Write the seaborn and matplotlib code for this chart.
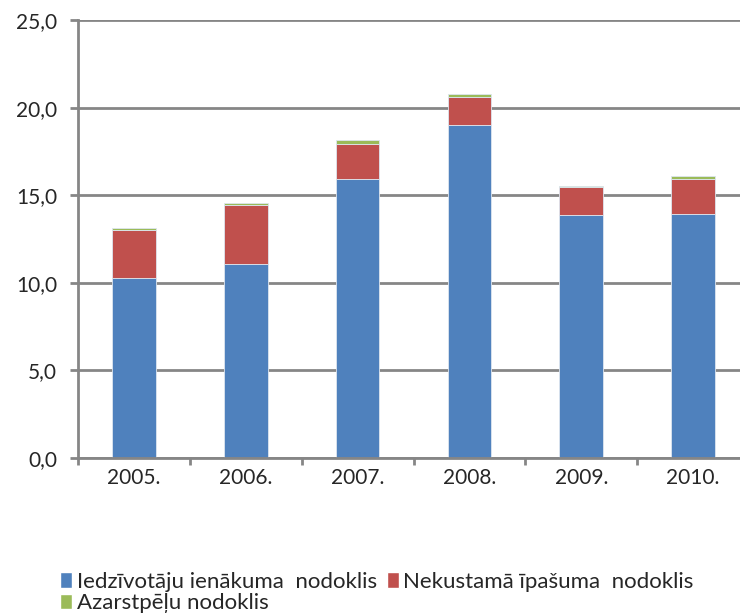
import matplotlib
matplotlib.use("Agg")
import matplotlib.pyplot as plt
import numpy as np
import seaborn as sns
from matplotlib.patches import Patch

years = ["2005.", "2006.", "2007.", "2008.", "2009.", "2010."]
iedzivotaju = [10.25, 11.1, 15.95, 19.0, 13.85, 13.95]
nekustama = [2.75, 3.35, 2.0, 1.6, 1.6, 2.0]
azarstpelu = [0.15, 0.12, 0.22, 0.2, 0.1, 0.12]

labels = ["Iedzīvotāju ienākuma  nodoklis", "Nekustamā īpašuma  nodoklis", "Azarstpēļu nodoklis"]
colors = ["#4F81BD", "#C0504D", "#9BBB59"]

sns.set_theme(style="white")
plt.rcParams["font.family"] = ["Lato", "DejaVu Sans"]

fig = plt.figure(figsize=(7.4, 6.15), dpi=100)
ax = fig.add_axes([78 / 740, 1 - 458 / 615, 671 / 740, 438 / 615])

bottom = np.zeros(len(years))
for vals, c in zip([iedzivotaju, nekustama, azarstpelu], colors):
    sns.barplot(x=years, y=vals, bottom=bottom, color=c, saturation=1, width=0.39,
                edgecolor="#dde6f0", linewidth=0.6, ax=ax, zorder=3)
    bottom = bottom + np.asarray(vals)

grid_c = "#868686"
ax.set_ylim(0, 25)
ax.set_xlim(-0.5, len(years) - 0.5)
ax.set_yticks(np.arange(0, 26, 5))
ax.set_yticklabels([f"{v:.1f}".replace(".", ",") for v in np.arange(0, 26, 5)])
ax.yaxis.grid(True, color=grid_c, linewidth=2.0, zorder=0)
ax.set_axisbelow(True)

for side in ["top", "right"]:
    ax.spines[side].set_visible(False)
for side in ["left", "bottom"]:
    ax.spines[side].set_color(grid_c)
    ax.spines[side].set_linewidth(2.0)
    ax.spines[side].set_zorder(4)

ax.tick_params(axis="y", which="major", direction="out", length=6, width=2.0,
               color=grid_c, labelsize=15, pad=9, left=True)
ax.tick_params(axis="x", which="major", length=0, labelsize=15, pad=7)
ax.set_xticks(np.arange(-0.5, len(years), 1), minor=True)
ax.tick_params(axis="x", which="minor", direction="out", length=5, width=2.0,
               color=grid_c, bottom=True)

handles = [Patch(facecolor=colors[0], label=labels[0]),
           Patch(facecolor=colors[2], label=labels[2]),
           Patch(facecolor=colors[1], label=labels[1])]
fig.legend(handles=handles, ncol=2, loc="upper left", bbox_to_anchor=(60 / 740, 1 - 572 / 615),
           frameon=False, fontsize=16, handlelength=0.55, handleheight=0.7,
           handletextpad=0.2, columnspacing=0.45, labelspacing=0.05,
           borderaxespad=0, borderpad=0)

fig.savefig("out.png", dpi=100)
